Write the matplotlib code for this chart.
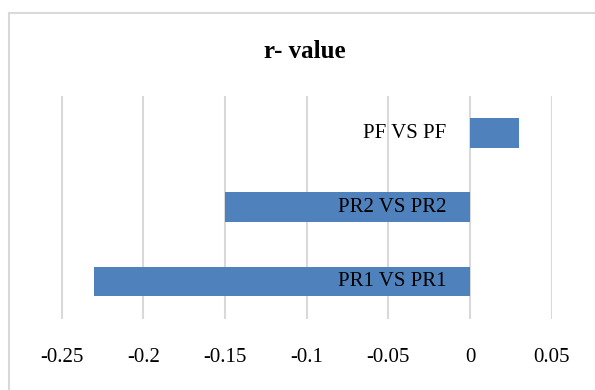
import numpy as np
import matplotlib.pyplot as plt
from matplotlib.patches import Rectangle

# r values for each comparison
categories = ['PR1 VS PR1', 'PR2 VS PR2', 'PF VS PF']
r_values = [-0.23, -0.15, 0.03]
x_ticks = [-0.25, -0.2, -0.15, -0.1, -0.05, 0, 0.05]
x_tick_labels = ['-0.25', '-0.2', '-0.15', '-0.1', '-0.05', '0', '0.05']

plt.rcParams['font.family'] = ['Liberation Serif', 'DejaVu Serif']

fig = plt.figure(figsize=(5.95, 3.9), dpi=100)

# chart area border (runs off the right and bottom edges)
fig.patches.append(Rectangle((9 / 595, -0.05), 1.0, 1 - 13 / 390 + 0.05,
                             transform=fig.transFigure, fill=False,
                             edgecolor='#d9d9d9', linewidth=1.5, zorder=0))

ax = fig.add_axes([61.5 / 595, 1 - 318.5 / 390, (551.8 - 61.5) / 595, (318.5 - 96) / 390])

y = np.arange(len(categories))
ax.barh(y, r_values, height=0.4, color='#4f81bd', zorder=2)

ax.set_xlim(-0.25, 0.05)
ax.set_ylim(-0.5, 2.5)
ax.set_xticks(x_ticks)
ax.set_xticklabels(x_tick_labels, fontsize=15)
ax.tick_params(axis='x', length=0, pad=21)
ax.set_yticks([])
ax.grid(axis='x', color='#d9d9d9', linewidth=1.5, zorder=0)
for s in ax.spines.values():
    s.set_visible(False)

# category labels sit just left of the zero line
for yi, name in zip(y, categories):
    ax.annotate(name, xy=(0, yi), xytext=(-24, 0), textcoords='offset pixels',
                ha='right', va='center', fontsize=15, color='black', zorder=3)

fig.text(305 / 595, 1 - 52 / 390, 'r- value', ha='center', va='center',
         fontsize=18, fontweight='bold')

fig.savefig('out.png', dpi=100)
